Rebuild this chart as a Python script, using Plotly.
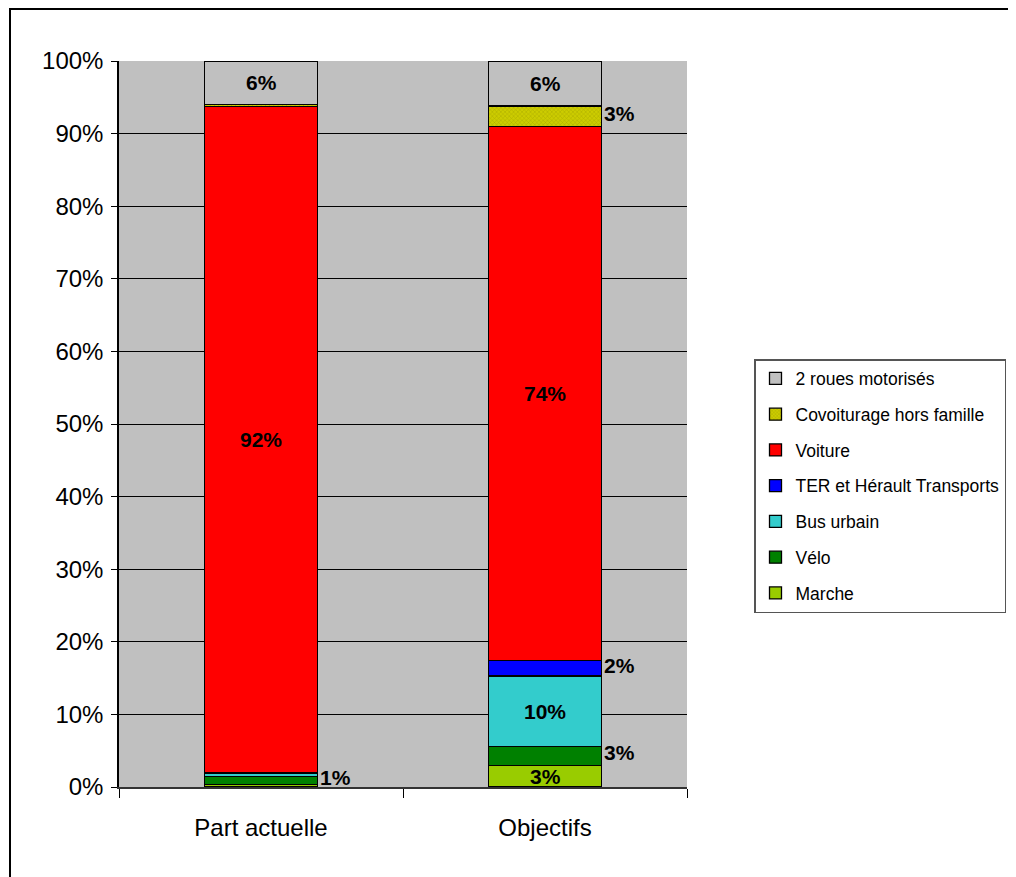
import plotly.graph_objects as go

categories = ["Part actuelle", "Objectifs"]

# stacking order, bottom to top
modes = [
    "Marche",
    "Vélo",
    "Bus urbain",
    "TER et Hérault Transports",
    "Voiture",
    "Covoiturage hors famille",
    "2 roues motorisés",
]
part_actuelle = [0.3, 1.1, 0.5, 0.1, 91.7, 0.3, 6.0]
objectifs = [3.0, 2.6, 9.7, 2.1, 73.6, 2.8, 6.2]

colors = ["#99CC00", "#008000", "#33CCCC", "#0000FF", "#FF0000", "#CCCC00", "#C0C0C0"]

# which data labels are shown, and where: "in" = centred in the bar, "out" = right of the bar
label_place = {
    "Part actuelle": {"Vélo": "out", "Voiture": "in", "2 roues motorisés": "in"},
    "Objectifs": {
        "Marche": "in", "Vélo": "out", "Bus urbain": "in",
        "TER et Hérault Transports": "out", "Voiture": "in",
        "Covoiturage hors famille": "out", "2 roues motorisés": "in",
    },
}

# page has an 8px body margin, so work in page pixels and subtract it
OFF = 8
W, H = 1016, 877 - OFF
L, R, T, B = 119 - OFF, 687 - OFF, 61 - OFF, 787 - OFF

fig = go.Figure()
for i, mode in enumerate(modes):
    marker = dict(color=colors[i], line=dict(color="black", width=1.3))
    if mode == "Covoiturage hors famille":
        marker["pattern"] = dict(shape="x", fgcolor="#8C8C00", bgcolor="#CCCC00", size=3, solidity=0.3)
    fig.add_trace(go.Bar(
        x=categories,
        y=[part_actuelle[i], objectifs[i]],
        name=mode,
        marker=marker,
        legendgroup=mode,
        legendrank=len(modes) - i,
        hovertemplate="%{x}<br>" + mode + " : %{y:.1f}%<extra></extra>",
    ))

series = {"Part actuelle": part_actuelle, "Objectifs": objectifs}
for cat in categories:
    vals = series[cat]
    base = 0
    for mode, v in zip(modes, vals):
        place = label_place[cat].get(mode)
        if place:
            mid = base + v / 2
            fig.add_annotation(
                x=cat, y=mid, xref="x", yref="y",
                text=f"<b>{round(v)}%</b>",
                showarrow=False,
                font=dict(size=21, color="black"),
                xanchor="center" if place == "in" else "left",
                xshift=0 if place == "in" else 57,
                yshift=0 if place == "in" else 3,
            )
        base += v

pw, ph = R - L, B - T
fig.add_shape(
    type="rect", xref="paper", yref="paper",
    x0=(10 - OFF - L) / pw, x1=(W + 5 - L) / pw,
    y0=(B - (H + 5)) / ph, y1=1 + (T - (9 - OFF)) / ph,
    line=dict(color="black", width=2), fillcolor="rgba(0,0,0,0)",
)

fig.update_layout(
    width=W, height=H,
    margin=dict(l=L, r=W - R, t=T, b=H - B),
    barmode="stack",
    bargap=0.6,
    plot_bgcolor="#C0C0C0",
    paper_bgcolor="white",
    font=dict(family="Liberation Sans, Arial, sans-serif", color="black"),
    showlegend=True,
    legend=dict(
        x=(754 - OFF - L) / pw, y=1 - (359 - OFF - T) / ph,
        xanchor="left", yanchor="top",
        traceorder="grouped",
        tracegroupgap=10,
        bgcolor="white",
        bordercolor="#555555", borderwidth=1.5,
        font=dict(size=17.5, color="black"),
    ),
)
fig.update_xaxes(
    showline=True, linecolor="#333333", linewidth=1.5,
    ticks="outside", tickson="boundaries", ticklen=9, tickcolor="black",
    tickfont=dict(size=24), ticklabelstandoff=18, showgrid=False,
)
fig.update_yaxes(
    range=[0, 100], dtick=10, ticksuffix="%",
    showline=True, linecolor="black", linewidth=1.5,
    ticks="outside", ticklen=6, tickcolor="black",
    tickfont=dict(size=24), ticklabelstandoff=3,
    showgrid=True, gridcolor="black", gridwidth=1,
    zeroline=False,
)

fig.write_html("out.html")
